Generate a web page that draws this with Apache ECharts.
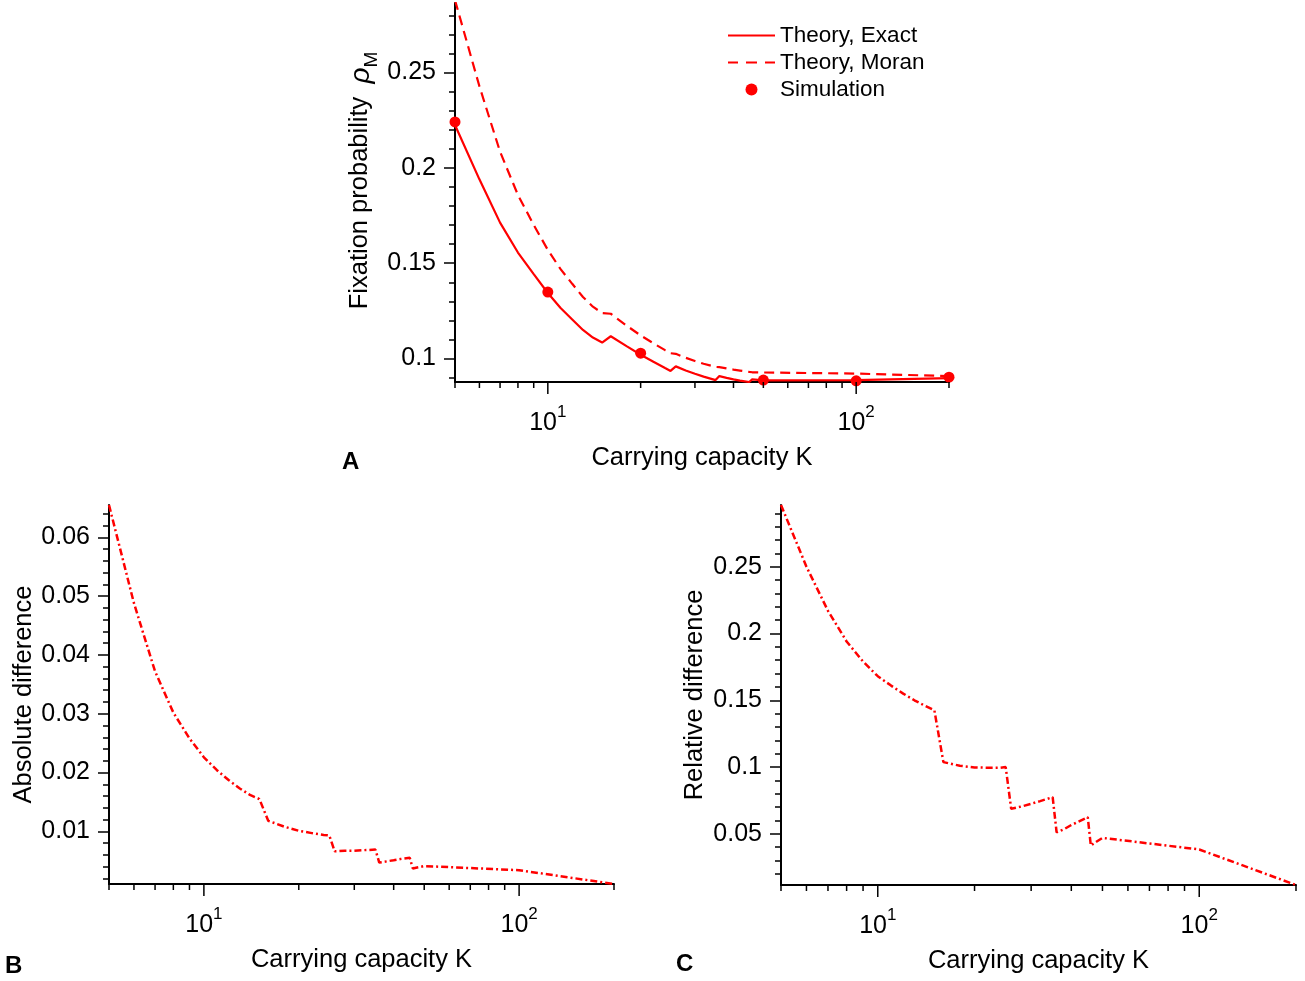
<!DOCTYPE html>
<html>
<head>
<meta charset="utf-8">
<script src="https://cdn.jsdelivr.net/npm/echarts@6/dist/echarts.min.js"></script>
<style>
  html, body { margin: 0; padding: 0; background: #fff; }
  #main { width: 1305px; height: 981px; }
</style>
</head>
<body>
<div id="main"></div>
<script>
// carrying capacity K
const K = [5, 6, 7, 8, 9, 10, 11, 12, 13, 14, 15, 16, 18, 20, 22, 24, 25, 26, 28, 30,
  32, 35, 36, 38, 40, 42, 45, 46, 48, 50, 100, 200];
// panel A, fixation probability
const exact = [0.2225, 0.194, 0.1713, 0.1556, 0.1443, 0.1344, 0.1265, 0.1205, 0.115, 0.111,
  0.1084, 0.1117, 0.1065, 0.102, 0.0983, 0.095, 0.0935, 0.0959, 0.0937, 0.092,
  0.0905, 0.0887, 0.0908, 0.0899, 0.0891, 0.0884, 0.0877, 0.0891, 0.0888, 0.0886, 0.0887, 0.0897];
const moran = [0.288, 0.2428, 0.2085, 0.1858, 0.1701, 0.157, 0.1469, 0.1392, 0.1323, 0.1272,
  0.1239, 0.1235, 0.1173, 0.1121, 0.108, 0.1044, 0.1028, 0.1025, 0.1004, 0.0987,
  0.0973, 0.0956, 0.0955, 0.0948, 0.0942, 0.0937, 0.093, 0.0928, 0.0927, 0.0927, 0.0921, 0.0908];
const simK = [5, 10, 20, 50, 100, 200];
const simVal = [0.2241, 0.1349, 0.1028, 0.0887, 0.0883, 0.0902];
// panel B, absolute difference
const absDiff = [0.0655, 0.0488, 0.0372, 0.0302, 0.0258, 0.0226, 0.0204, 0.0187, 0.0173, 0.0162,
  0.0155, 0.0118, 0.0108, 0.0101, 0.0097, 0.0094, 0.0093, 0.0066, 0.0067, 0.0067,
  0.0068, 0.0069, 0.0047, 0.0049, 0.0051, 0.0053, 0.0055, 0.0037, 0.0039, 0.0041, 0.0034, 0.00105];
// panel C, relative difference
const relDiff = [0.2962, 0.25, 0.217, 0.194, 0.179, 0.168, 0.161, 0.155, 0.15, 0.146,
  0.1425, 0.1037, 0.101, 0.0997, 0.0995, 0.0995, 0.1, 0.0688, 0.0705, 0.0725,
  0.0745, 0.0775, 0.0512, 0.0535, 0.0566, 0.059, 0.0625, 0.0413, 0.0443, 0.047, 0.0383, 0.0117];
// tick positions
const xMajor = [10, 100];
const xMinor = [5, 6, 7, 8, 9, 20, 30, 40, 50, 60, 70, 80, 90, 200];
const yTicksA = [0.1, 0.15, 0.2, 0.25];
const yTicksB = [0.01, 0.02, 0.03, 0.04, 0.05, 0.06];
const yTicksC = [0.05, 0.1, 0.15, 0.2, 0.25];

const FONT = 'Liberation Sans, Arial, sans-serif';
const RED = '#ff0000';
// legend icons: plain line / dashed line (no marker on them)
const ICON_SOLID = 'path://M0,5H47V7H0Z';
const ICON_DASH = 'path://M0,5H10V7H0Z M18,5H29V7H18Z M37,5H47V7H37Z';

const pair = (xs, ys) => xs.map((x, i) => [x, ys[i]]);

function xAxis(grid) {
  return {
    type: 'log', gridIndex: grid, min: 5, max: 200,
    name: 'Carrying capacity K', nameLocation: 'middle', nameGap: 63,
    nameTextStyle: { fontSize: 25.5, color: '#000', fontFamily: FONT },
    axisLine: { lineStyle: { color: '#000', width: 2 } },
    axisTick: { show: false },
    splitLine: { show: false },
    axisLabel: {
      margin: 22,
      formatter: (v) => {
        const e = Math.log10(v);
        if (Math.abs(e - Math.round(e)) > 1e-6) return '';
        return '{b|10}{s|' + Math.round(e) + '}';
      },
      rich: {
        b: { fontSize: 25, color: '#000', fontFamily: FONT, verticalAlign: 'bottom', lineHeight: 32 },
        s: { fontSize: 17, color: '#000', fontFamily: FONT, verticalAlign: 'top', lineHeight: 32 }
      }
    }
  };
}

function yAxis(grid, min, max, split, ticks, fmt, name, gap) {
  return {
    type: 'value', gridIndex: grid, min: min, max: max, splitNumber: split,
    name: name, nameLocation: 'middle', nameGap: gap,
    nameTextStyle: { fontSize: 25.5, color: '#000', fontFamily: FONT },
    axisLine: { show: true, lineStyle: { color: '#000', width: 2 } },
    axisTick: { show: true, length: 11, customValues: ticks, lineStyle: { color: '#000', width: 1.5 } },
    minorTick: { show: true, splitNumber: 5, length: 6, lineStyle: { color: '#000', width: 1.5 } },
    splitLine: { show: false },
    axisLabel: { customValues: ticks, margin: 19, fontSize: 25, color: '#000', fontFamily: FONT, formatter: fmt }
  };
}

// x-axis ticks drawn with the axis scale
function tickSeries(grid, values, len, yMin) {
  return {
    type: 'custom', xAxisIndex: grid, yAxisIndex: grid, silent: true, z: 5,
    data: values.map(k => [k, yMin]),
    renderItem: (params, api) => {
      const x = api.coord([api.value(0), api.value(1)])[0];
      const y0 = params.coordSys.y + params.coordSys.height;
      return {
        type: 'line',
        shape: { x1: x, y1: y0, x2: x, y2: y0 + len },
        style: { stroke: '#000', lineWidth: 1.5 }
      };
    }
  };
}

const yMinA = 0.0877, yMinB = 0.00105, yMinC = 0.0117;

let option = {
  animation: false,
  textStyle: { fontFamily: FONT },
  title: [
    { text: 'A', left: 342, top: 450, padding: 0, textStyle: { fontSize: 24, fontWeight: 'bold', color: '#000', fontFamily: FONT } },
    { text: 'B', left: 5, top: 954, padding: 0, textStyle: { fontSize: 24, fontWeight: 'bold', color: '#000', fontFamily: FONT } },
    { text: 'C', left: 676, top: 952, padding: 0, textStyle: { fontSize: 24, fontWeight: 'bold', color: '#000', fontFamily: FONT } }
  ],
  legend: {
    data: [
      { name: 'Theory, Exact', icon: ICON_SOLID },
      { name: 'Theory, Moran', icon: ICON_DASH },
      { name: 'Simulation', icon: 'circle' }
    ],
    orient: 'vertical', left: 728, top: 24, padding: 0,
    itemWidth: 47, itemHeight: 12, itemGap: 4,
    textStyle: { fontSize: 22.5, color: '#000', fontFamily: FONT }
  },
  grid: [
    { left: 455, top: 3, width: 494, height: 379 },
    { left: 109, top: 505, width: 505, height: 379 },
    { left: 781, top: 505, width: 515, height: 380 }
  ],
  xAxis: [xAxis(0), xAxis(1), xAxis(2)],
  yAxis: [
    yAxis(0, yMinA, 0.2865, 4, yTicksA, v => String(+v.toFixed(2)),
      '{t|Fixation probability }{r|ρ}{m|M}', 74),
    yAxis(1, yMinB, 0.0655, 6, yTicksB, v => v.toFixed(2), 'Absolute difference', 70),
    yAxis(2, yMinC, 0.2962, 6, yTicksC, v => String(+v.toFixed(2)), 'Relative difference', 73)
  ],
  series: [
    {
      name: 'Theory, Exact', type: 'line', xAxisIndex: 0, yAxisIndex: 0,
      data: pair(K, exact), symbol: 'none', color: RED,
      lineStyle: { color: RED, width: 2.2 }
    },
    {
      name: 'Theory, Moran', type: 'line', xAxisIndex: 0, yAxisIndex: 0,
      data: pair(K, moran), symbol: 'none', color: RED,
      lineStyle: { color: RED, width: 2.2, type: [10, 6] }
    },
    {
      name: 'Simulation', type: 'scatter', xAxisIndex: 0, yAxisIndex: 0,
      data: pair(simK, simVal), symbolSize: 11, clip: false, color: RED,
      itemStyle: { color: RED, opacity: 1 }
    },
    {
      name: 'Absolute difference', type: 'line', xAxisIndex: 1, yAxisIndex: 1,
      data: pair(K, absDiff), symbol: 'none',
      lineStyle: { color: RED, width: 2.5, type: [7, 3, 2, 3] }
    },
    {
      name: 'Relative difference', type: 'line', xAxisIndex: 2, yAxisIndex: 2,
      data: pair(K, relDiff), symbol: 'none',
      lineStyle: { color: RED, width: 2.5, type: [7, 3, 2, 3] }
    },
    tickSeries(0, xMajor, 12, yMinA), tickSeries(0, xMinor, 6, yMinA),
    tickSeries(1, xMajor, 12, yMinB), tickSeries(1, xMinor, 6, yMinB),
    tickSeries(2, xMajor, 12, yMinC), tickSeries(2, xMinor, 6, yMinC)
  ]
};

// rich text for the panel A axis name (rho with subscript M)
option.yAxis[0].nameTextStyle.rich = {
  t: { fontSize: 25.5, color: '#000', fontFamily: FONT, verticalAlign: 'top', lineHeight: 34 },
  r: { fontSize: 28, color: '#000', fontFamily: FONT, fontStyle: 'italic', verticalAlign: 'top', lineHeight: 34, padding: [0, 0, 0, 6] },
  m: { fontSize: 19, color: '#000', fontFamily: FONT, verticalAlign: 'bottom', lineHeight: 34 }
};
option.yAxis[0].nameTextStyle.padding = [0, 0, 0, 24];

let myChart = echarts.init(document.getElementById('main'));
myChart.setOption(option);
</script>
</body>
</html>
